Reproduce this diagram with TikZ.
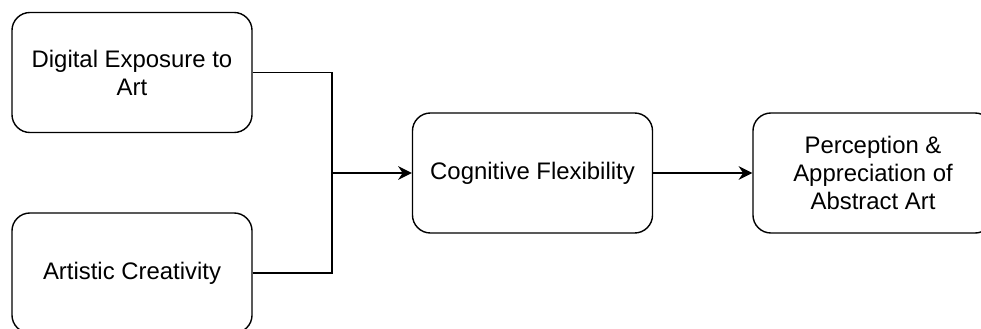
\documentclass[tikz,border=0pt]{standalone}
\usepackage{fontspec}
\setmainfont{Liberation Sans}
\usetikzlibrary{arrows.meta}

\tikzset{
  factor/.style={draw,line width=1pt,rounded corners=0.45cm,
    minimum width=6cm,minimum height=3cm,align=center,
    font=\fontsize{17}{20}\selectfont},
  link/.style={line width=1pt},
  flow/.style={line width=1pt,-{Stealth[length=3.4mm,width=3.4mm]}}
}

\begin{document}
\begin{tikzpicture}[x=0.025cm,y=-0.025cm]

\clip (0,0) rectangle (981,329);

  % predictors
  \node[factor] (dig) at (132,72.5) {Digital Exposure to\\Art};
  \node[factor] (art) at (132,273) {Artistic Creativity};

  % mediator and outcome
  \node[factor] (cog) at (532.5,173) {Cognitive Flexibility};
  \node[factor] (perc) at (873,173) {Perception \&\\Appreciation of\\Abstract Art};

  \coordinate (j) at (332,173);

  \draw[link] (dig.east) -| (j);
  \draw[link] (art.east) -| (j);
  \draw[flow] (j) -- (cog);
  \draw[flow] (cog) -- (perc);

\end{tikzpicture}
\end{document}
